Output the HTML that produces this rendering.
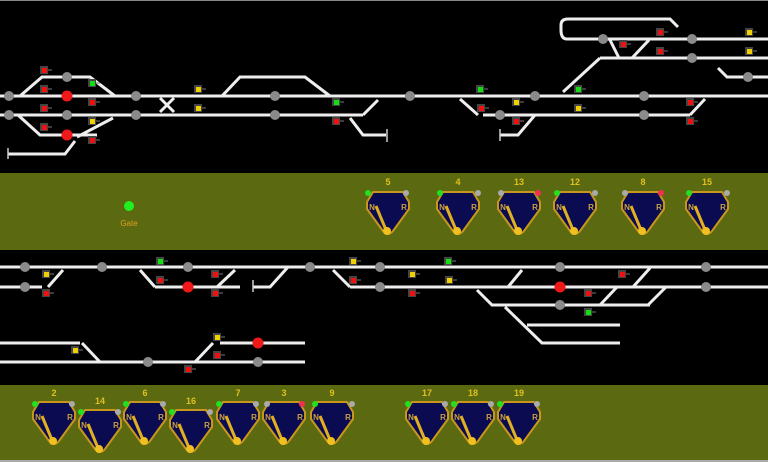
<!DOCTYPE html>
<html><head><meta charset="utf-8"><style>
html,body{margin:0;padding:0;background:#000;}
svg{display:block}
</style></head><body>
<svg width="768" height="462" viewBox="0 0 768 462" xmlns="http://www.w3.org/2000/svg" font-family="Liberation Sans, sans-serif">
<defs>
<g id="lever">
<path d="M-15,0 L15,0 L21,10 L21,17 L5,39 Q0,45 -5,39 L-21,17 L-21,10 Z" fill="#0b0b52" stroke="#c8961c" stroke-width="2"/>
<line x1="-12" y1="14" x2="-2" y2="38" stroke="#e0b020" stroke-width="3"/>
<circle cx="-1" cy="39" r="4" fill="#f0c020"/>
<text x="-16" y="18" font-size="8" fill="#c8a040" text-anchor="middle" font-weight="bold">N</text>
<text x="16" y="18" font-size="8" fill="#c8a040" text-anchor="middle" font-weight="bold">R</text>
</g>
<g id="sg"><line x1="0" y1="0" x2="8" y2="0" stroke="#777" stroke-width="1"/><rect x="-4" y="-4" width="8" height="8" fill="#444"/></g>
</defs>
<rect width="768" height="462" fill="#000"/>
<rect x="0" y="0" width="768" height="1" fill="#888"/>
<rect x="0" y="173" width="768" height="77" fill="#5b6a10"/>
<rect x="0" y="385" width="768" height="75" fill="#5b6a10"/>
<rect x="0" y="460" width="768" height="2" fill="#aaa"/>

<g stroke="#eee" stroke-width="3" fill="none">
<!-- top section -->
<line x1="0" y1="96" x2="768" y2="96"/>
<line x1="0" y1="115" x2="363" y2="115"/>
<line x1="483" y1="115" x2="690" y2="115"/>
<polyline points="20,96 42,77 90,77 115,96"/>
<polyline points="18,115 40,135 97,135"/>
<line x1="77" y1="137" x2="113" y2="118"/>
<polyline points="8,154 65,154 75,141"/>
<line x1="363" y1="115" x2="378" y2="100"/>
<polyline points="350,118 363,135 386,135"/>
<polyline points="222,96 240,77 305,77 330,96"/>
<polyline points="460,99 478,115"/>
<line x1="705" y1="99" x2="690" y2="115"/>
<polyline points="500,135 518,135 535,115"/>
<line x1="563" y1="92" x2="600" y2="58"/>
<line x1="600" y1="58" x2="768" y2="58"/>
<line x1="567" y1="39" x2="768" y2="39"/>
<path d="M567,39 Q561,39 561,30 L561,25 Q561,19 568,19 L670,19 L678,27"/>
<line x1="610" y1="40" x2="619" y2="58"/>
<line x1="649" y1="40" x2="632" y2="58"/>
<polyline points="718,68 727,77 768,77"/>
<!-- middle section -->
<line x1="0" y1="267" x2="768" y2="267"/>
<line x1="0" y1="287" x2="42" y2="287"/>
<line x1="48" y1="287" x2="63" y2="270"/>
<line x1="140" y1="270" x2="155" y2="287"/>
<line x1="155" y1="287" x2="240" y2="287"/>
<line x1="217" y1="287" x2="235" y2="270"/>
<polyline points="253,287 270,287 288,267"/>
<line x1="333" y1="270" x2="350" y2="287"/>
<line x1="350" y1="287" x2="768" y2="287"/>
<line x1="508" y1="287" x2="522" y2="270"/>
<line x1="633" y1="287" x2="650" y2="268"/>
<polyline points="477,290 492,305 650,305"/>
<line x1="600" y1="305" x2="617" y2="287"/>
<line x1="648" y1="305" x2="666" y2="287"/>
<polyline points="505,307 542,343 620,343"/>
<line x1="527" y1="325" x2="620" y2="325"/>
<!-- lower -->
<line x1="0" y1="343" x2="80" y2="343"/>
<polyline points="82,343 100,362"/>
<line x1="0" y1="362" x2="305" y2="362"/>
<line x1="220" y1="343" x2="305" y2="343"/>
<line x1="195" y1="362" x2="213" y2="343"/>
<line x1="160" y1="98" x2="174" y2="112" stroke-width="3"/>
<line x1="174" y1="98" x2="160" y2="112" stroke-width="3"/>
</g>
<g stroke="#ccc" stroke-width="1.5">
<line x1="8" y1="148" x2="8" y2="159"/><line x1="387" y1="129" x2="387" y2="142"/>
<line x1="500" y1="129" x2="500" y2="141"/><line x1="253" y1="280" x2="253" y2="292"/>
</g>
<!-- discs -->
<g fill="#8a8a8a">
<circle cx="9" cy="96" r="5"/><circle cx="136" cy="96" r="5"/><circle cx="275" cy="96" r="5"/><circle cx="410" cy="96" r="5"/><circle cx="535" cy="96" r="5"/><circle cx="644" cy="96" r="5"/>
<circle cx="9" cy="115" r="5"/><circle cx="67" cy="115" r="5"/><circle cx="136" cy="115" r="5"/><circle cx="275" cy="115" r="5"/><circle cx="500" cy="115" r="5"/><circle cx="644" cy="115" r="5"/>
<circle cx="67" cy="77" r="5"/><circle cx="603" cy="39" r="5"/><circle cx="692" cy="39" r="5"/><circle cx="692" cy="58" r="5"/><circle cx="748" cy="77" r="5"/>
<circle cx="25" cy="267" r="5"/><circle cx="102" cy="267" r="5"/><circle cx="188" cy="267" r="5"/><circle cx="310" cy="267" r="5"/><circle cx="380" cy="267" r="5"/><circle cx="560" cy="267" r="5"/><circle cx="706" cy="267" r="5"/>
<circle cx="25" cy="287" r="5"/><circle cx="380" cy="287" r="5"/><circle cx="706" cy="287" r="5"/><circle cx="560" cy="305" r="5"/>
<circle cx="148" cy="362" r="5"/><circle cx="258" cy="362" r="5"/>
</g>
<g fill="#f01818">
<circle cx="67" cy="96" r="5.5"/><circle cx="67" cy="135" r="5.5"/><circle cx="188" cy="287" r="5.5"/><circle cx="560" cy="287" r="5.5"/><circle cx="258" cy="343" r="5.5"/>
</g>
<!-- signals -->
<g>
<use href="#sg" x="44" y="70"/><use href="#sg" x="44" y="89"/><use href="#sg" x="44" y="108"/><use href="#sg" x="44" y="127"/>
<use href="#sg" x="92" y="83"/><use href="#sg" x="92" y="102"/><use href="#sg" x="92" y="121"/><use href="#sg" x="92" y="140"/>
<use href="#sg" x="198" y="89"/><use href="#sg" x="198" y="108"/><use href="#sg" x="336" y="102"/><use href="#sg" x="336" y="121"/>
<use href="#sg" x="660" y="32"/><use href="#sg" x="623" y="44"/><use href="#sg" x="660" y="51"/><use href="#sg" x="749" y="32"/><use href="#sg" x="749" y="51"/>
<use href="#sg" x="480" y="89"/><use href="#sg" x="578" y="89"/><use href="#sg" x="516" y="102"/><use href="#sg" x="578" y="108"/><use href="#sg" x="481" y="108"/><use href="#sg" x="516" y="121"/><use href="#sg" x="690" y="102"/><use href="#sg" x="690" y="121"/>
<use href="#sg" x="46" y="274"/><use href="#sg" x="46" y="293"/><use href="#sg" x="160" y="261"/><use href="#sg" x="160" y="280"/><use href="#sg" x="215" y="274"/><use href="#sg" x="215" y="293"/>
<use href="#sg" x="353" y="261"/><use href="#sg" x="353" y="280"/><use href="#sg" x="412" y="274"/><use href="#sg" x="412" y="293"/><use href="#sg" x="448" y="261"/><use href="#sg" x="449" y="280"/>
<use href="#sg" x="622" y="274"/><use href="#sg" x="588" y="293"/><use href="#sg" x="588" y="312"/>
<use href="#sg" x="75" y="350"/><use href="#sg" x="217" y="337"/><use href="#sg" x="217" y="355"/><use href="#sg" x="188" y="369"/>
</g>
<g>
<rect x="42" y="68" width="5" height="5" fill="#f01010"/><rect x="42" y="87" width="5" height="5" fill="#f01010"/><rect x="42" y="106" width="5" height="5" fill="#f01010"/><rect x="42" y="125" width="5" height="5" fill="#f01010"/>
<rect x="90" y="81" width="5" height="5" fill="#10e010"/><rect x="90" y="100" width="5" height="5" fill="#f01010"/><rect x="90" y="119" width="5" height="5" fill="#f0d000"/><rect x="90" y="138" width="5" height="5" fill="#f01010"/>
<rect x="196" y="87" width="5" height="5" fill="#f0d000"/><rect x="196" y="106" width="5" height="5" fill="#f0d000"/><rect x="334" y="100" width="5" height="5" fill="#10e010"/><rect x="334" y="119" width="5" height="5" fill="#f01010"/>
<rect x="658" y="30" width="5" height="5" fill="#f01010"/><rect x="621" y="42" width="5" height="5" fill="#f01010"/><rect x="658" y="49" width="5" height="5" fill="#f01010"/><rect x="747" y="30" width="5" height="5" fill="#f0d000"/><rect x="747" y="49" width="5" height="5" fill="#f0d000"/>
<rect x="478" y="87" width="5" height="5" fill="#10e010"/><rect x="576" y="87" width="5" height="5" fill="#10e010"/><rect x="514" y="100" width="5" height="5" fill="#f0d000"/><rect x="576" y="106" width="5" height="5" fill="#f0d000"/><rect x="479" y="106" width="5" height="5" fill="#f01010"/><rect x="514" y="119" width="5" height="5" fill="#f01010"/><rect x="688" y="100" width="5" height="5" fill="#f01010"/><rect x="688" y="119" width="5" height="5" fill="#f01010"/>
<rect x="44" y="272" width="5" height="5" fill="#f0d000"/><rect x="44" y="291" width="5" height="5" fill="#f01010"/><rect x="158" y="259" width="5" height="5" fill="#10e010"/><rect x="158" y="278" width="5" height="5" fill="#f01010"/><rect x="213" y="272" width="5" height="5" fill="#f01010"/><rect x="213" y="291" width="5" height="5" fill="#f01010"/>
<rect x="351" y="259" width="5" height="5" fill="#f0d000"/><rect x="351" y="278" width="5" height="5" fill="#f01010"/><rect x="410" y="272" width="5" height="5" fill="#f0d000"/><rect x="410" y="291" width="5" height="5" fill="#f01010"/><rect x="446" y="259" width="5" height="5" fill="#10e010"/><rect x="447" y="278" width="5" height="5" fill="#f0d000"/>
<rect x="620" y="272" width="5" height="5" fill="#f01010"/><rect x="586" y="291" width="5" height="5" fill="#f01010"/><rect x="586" y="310" width="5" height="5" fill="#10e010"/>
<rect x="73" y="348" width="5" height="5" fill="#f0d000"/><rect x="215" y="335" width="5" height="5" fill="#f0d000"/><rect x="215" y="353" width="5" height="5" fill="#f01010"/><rect x="186" y="367" width="5" height="5" fill="#f01010"/>
</g>
<!-- gate -->
<circle cx="129" cy="206" r="5" fill="#20f020"/>
<text x="129" y="226" font-size="8" fill="#e0a020" text-anchor="middle">Gate</text>
<!-- levers top -->
<g font-size="9" fill="#e0c020" text-anchor="middle" font-weight="bold">
<text x="388" y="185">5</text><text x="458" y="185">4</text><text x="519" y="185">13</text><text x="575" y="185">12</text><text x="643" y="185">8</text><text x="707" y="185">15</text>
<text x="54" y="396">2</text><text x="100" y="404">14</text><text x="145" y="396">6</text><text x="191" y="404">16</text><text x="238" y="396">7</text><text x="284" y="396">3</text><text x="332" y="396">9</text>
<text x="427" y="396">17</text><text x="473" y="396">18</text><text x="519" y="396">19</text>
</g>
<use href="#lever" x="388" y="192"/><use href="#lever" x="458" y="192"/><use href="#lever" x="519" y="192"/><use href="#lever" x="575" y="192"/><use href="#lever" x="643" y="192"/><use href="#lever" x="707" y="192"/>
<use href="#lever" x="54" y="402"/><use href="#lever" x="100" y="410"/><use href="#lever" x="145" y="402"/><use href="#lever" x="191" y="410"/><use href="#lever" x="238" y="402"/><use href="#lever" x="284" y="402"/><use href="#lever" x="332" y="402"/>
<use href="#lever" x="427" y="402"/><use href="#lever" x="473" y="402"/><use href="#lever" x="519" y="402"/>
<g>
<circle cx="368" cy="193" r="3" fill="#20e020"/><circle cx="406" cy="193" r="3" fill="#aaa"/>
<circle cx="440" cy="193" r="3" fill="#20e020"/><circle cx="478" cy="193" r="3" fill="#aaa"/>
<circle cx="501" cy="193" r="3" fill="#aaa"/><circle cx="538" cy="193" r="3" fill="#f03050"/>
<circle cx="557" cy="193" r="3" fill="#20e020"/><circle cx="595" cy="193" r="3" fill="#aaa"/>
<circle cx="625" cy="193" r="3" fill="#aaa"/><circle cx="661" cy="193" r="3" fill="#f03050"/>
<circle cx="689" cy="193" r="3" fill="#20e020"/><circle cx="727" cy="193" r="3" fill="#aaa"/>
<circle cx="35" cy="404" r="3" fill="#20e020"/><circle cx="72" cy="404" r="3" fill="#aaa"/>
<circle cx="81" cy="412" r="3" fill="#20e020"/><circle cx="118" cy="412" r="3" fill="#aaa"/>
<circle cx="126" cy="404" r="3" fill="#20e020"/><circle cx="163" cy="404" r="3" fill="#aaa"/>
<circle cx="172" cy="412" r="3" fill="#20e020"/><circle cx="210" cy="412" r="3" fill="#aaa"/>
<circle cx="219" cy="404" r="3" fill="#20e020"/><circle cx="256" cy="404" r="3" fill="#aaa"/>
<circle cx="267" cy="404" r="3" fill="#aaa"/><circle cx="302" cy="404" r="3" fill="#f03050"/>
<circle cx="315" cy="404" r="3" fill="#20e020"/><circle cx="352" cy="404" r="3" fill="#aaa"/>
<circle cx="408" cy="404" r="3" fill="#20e020"/><circle cx="445" cy="404" r="3" fill="#aaa"/>
<circle cx="454" cy="404" r="3" fill="#20e020"/><circle cx="491" cy="404" r="3" fill="#aaa"/>
<circle cx="500" cy="404" r="3" fill="#20e020"/><circle cx="537" cy="404" r="3" fill="#aaa"/>
</g>
</svg>
</body></html>
